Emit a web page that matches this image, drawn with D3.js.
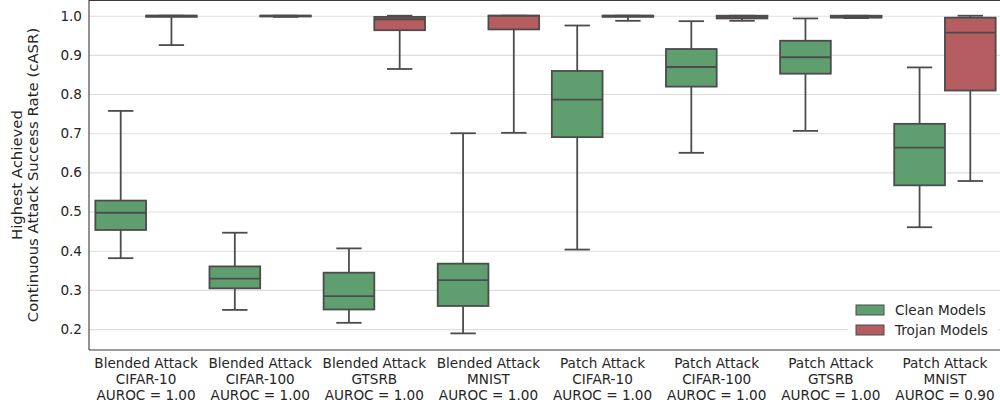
<!DOCTYPE html>
<html>
<head>
<meta charset="utf-8">
<script src="https://cdn.jsdelivr.net/npm/d3@7"></script>
<style>
  html, body { margin: 0; padding: 0; background: #fff; }
  svg { display: block; font-family: "DejaVu Sans", sans-serif; }
</style>
</head>
<body>
<svg id="chart" width="1000" height="408"></svg>
<script>
// ---- data ----
const categories = ["Blended Attack|CIFAR-10", "Blended Attack|CIFAR-100", "Blended Attack|GTSRB", "Blended Attack|MNIST",
                    "Patch Attack|CIFAR-10", "Patch Attack|CIFAR-100", "Patch Attack|GTSRB", "Patch Attack|MNIST"];
const auroc = ["1.00", "1.00", "1.00", "1.00", "1.00", "1.00", "1.00", "0.90"];
const groups = ["Clean Models", "Trojan Models"];
// [whiskerLow, q1, median, q3, whiskerHigh]
const cleanStats = [
  [0.381, 0.453, 0.497, 0.528, 0.757],
  [0.249, 0.304, 0.329, 0.360, 0.446],
  [0.216, 0.250, 0.284, 0.344, 0.406],
  [0.189, 0.259, 0.325, 0.367, 0.700],
  [0.403, 0.690, 0.786, 0.859, 0.975],
  [0.650, 0.819, 0.869, 0.915, 0.986],
  [0.706, 0.852, 0.894, 0.936, 0.993],
  [0.460, 0.567, 0.663, 0.724, 0.868]
];
const trojanStats = [
  [0.925, 0.997, 1.000, 1.000, 1.000],
  [0.997, 0.998, 1.000, 1.000, 1.000],
  [0.864, 0.963, 0.991, 0.997, 1.000],
  [0.701, 0.965, 1.000, 1.000, 1.000],
  [0.987, 0.997, 1.000, 1.000, 1.000],
  [0.987, 0.993, 0.997, 1.000, 1.000],
  [0.994, 0.995, 0.999, 1.000, 1.000],
  [0.578, 0.809, 0.957, 0.995, 1.000]
];
const yTicks = [0.2, 0.3, 0.4, 0.5, 0.6, 0.7, 0.8, 0.9, 1.0];

// ---- layout ----
const colors = { "Clean Models": "#5f9e6e", "Trojan Models": "#b55d60" };
const lineColor = "#4c4c4c";
const mLeft = 89, mRight = 1002, mTop = 0, mBottom = 350;

const svg = d3.select("#chart");

const x = d3.scaleBand().domain(categories).range([mLeft, mRight]).paddingInner(0).paddingOuter(0);
const xSub = d3.scaleBand().domain(groups).range([0, x.bandwidth()]).paddingInner(0).paddingOuter(0.125);
const y = d3.scaleLinear().domain([0.1466, 1.0401]).range([mBottom, mTop]);

// grid
const yAxis = d3.axisLeft(y).tickValues(yTicks).tickFormat(d3.format(".1f")).tickSize(-(mRight - mLeft)).tickPadding(7);
const gY = svg.append("g").attr("transform", `translate(${mLeft},0)`).call(yAxis);
gY.select(".domain").remove();
gY.selectAll(".tick line").attr("stroke", "#dedede").attr("stroke-width", 1.1);
gY.selectAll(".tick text").attr("fill", "#262626").style("font-size", "13.6px").style("font-family", "DejaVu Sans");

// spines
svg.append("line").attr("x1", mLeft).attr("x2", mLeft).attr("y1", mTop).attr("y2", mBottom).attr("stroke", "#3a3a3a").attr("stroke-width", 1.1);
svg.append("line").attr("x1", mLeft).attr("x2", 1000).attr("y1", mBottom).attr("y2", mBottom).attr("stroke", "#3a3a3a").attr("stroke-width", 1.1);
svg.append("line").attr("x1", mLeft).attr("x2", 1000).attr("y1", mTop + 0.5).attr("y2", mTop + 0.5).attr("stroke", "#3a3a3a").attr("stroke-width", 1.1);

// boxes
const series = [cleanStats, trojanStats];
const boxW = xSub.bandwidth();
categories.forEach((c, i) => {
  groups.forEach((g, gi) => {
    const s = series[gi][i];
    const x0 = x(c) + xSub(g);
    const cx = x0 + boxW / 2;
    const gg = svg.append("g");
    gg.append("line").attr("x1", cx).attr("x2", cx).attr("y1", y(s[0])).attr("y2", y(s[1]))
      .attr("stroke", lineColor).attr("stroke-width", 1.8);
    gg.append("line").attr("x1", cx).attr("x2", cx).attr("y1", y(s[3])).attr("y2", y(s[4]))
      .attr("stroke", lineColor).attr("stroke-width", 1.8);
    [s[0], s[4]].forEach(v => {
      gg.append("line").attr("x1", cx - boxW / 4).attr("x2", cx + boxW / 4).attr("y1", y(v)).attr("y2", y(v))
        .attr("stroke", lineColor).attr("stroke-width", 1.8);
    });
    gg.append("rect").attr("x", x0).attr("y", y(s[3])).attr("width", boxW)
      .attr("height", Math.max(0, y(s[1]) - y(s[3])))
      .attr("fill", colors[g]).attr("stroke", lineColor).attr("stroke-width", 1.8);
    gg.append("line").attr("x1", x0).attr("x2", x0 + boxW).attr("y1", y(s[2])).attr("y2", y(s[2]))
      .attr("stroke", lineColor).attr("stroke-width", 1.8);
  });
});

// x labels
categories.forEach((c, i) => {
  const parts = c.split("|");
  const lines = [parts[0], parts[1], "AUROC = " + auroc[i]];
  const cxl = x(c) + x.bandwidth() / 2;
  const t = svg.append("text").attr("x", cxl).attr("y", 368)
    .attr("text-anchor", "middle").attr("fill", "#262626").style("font-size", "13.6px");
  lines.forEach((l, li) => {
    t.append("tspan").attr("x", cxl).attr("dy", li === 0 ? 0 : 16).text(l);
  });
});

// y label
const yl = svg.append("text").attr("transform", `translate(0,${(mTop + mBottom) / 2}) rotate(-90)`)
  .attr("text-anchor", "middle").attr("fill", "#262626").style("font-size", "14.9px");
yl.append("tspan").attr("x", 0).attr("y", 22).text("Highest Achieved");
yl.append("tspan").attr("x", 0).attr("y", 38).text("Continuous Attack Success Rate (cASR)");

// legend
const lg = svg.append("g");
lg.append("rect").attr("x", 848).attr("y", 297).attr("width", 150).attr("height", 46).attr("fill", "#fff").attr("rx", 3);
groups.forEach((g, gi) => {
  const yy = 305 + gi * 20;
  lg.append("rect").attr("x", 856).attr("y", yy).attr("width", 28).attr("height", 10)
    .attr("fill", colors[g]).attr("stroke", lineColor).attr("stroke-width", 1);
  lg.append("text").attr("x", 895).attr("y", yy + 10).attr("fill", "#262626").style("font-size", "13.6px").text(g);
});
</script>
</body>
</html>
